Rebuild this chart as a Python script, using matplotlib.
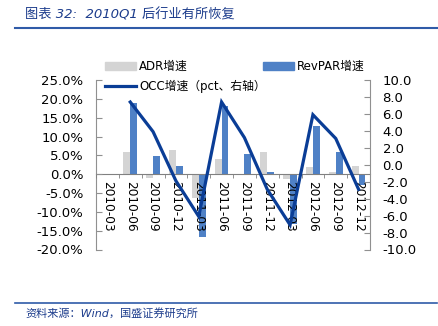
#!/usr/bin/env python3
# Hotel industry recovery after 2010Q1: ADR / RevPAR growth (bars) and OCC change (line, right axis)

import numpy as np
import matplotlib
matplotlib.use("Agg")
import matplotlib.pyplot as plt
from matplotlib.patches import Patch
from matplotlib.lines import Line2D

plt.rcParams['font.family'] = ['DejaVu Sans', 'Noto Sans CJK SC']

#%%============================================================================
# Data
#==============================================================================
quarters = ['2010-03', '2010-06', '2010-09', '2010-12', '2011-03', '2011-06',
            '2011-09', '2011-12', '2012-03', '2012-06', '2012-09', '2012-12']
adr = [0.0, 6.0, -0.9, 6.3, -6.4, 4.0, 0.0, 5.8, -1.3, 2.0, 0.7, 2.2]        # %
revpar = [0.0, 18.8, 4.9, 2.3, -16.8, 18.1, 5.4, 0.7, -13.3, 12.9, 5.8, -3.0]  # %
occ = [np.nan, 7.4, 3.9, -1.9, -6.1, 7.4, 3.2, -2.9, -7.1, 5.9, 3.1, -2.9]   # pct

left_ticks = [-20, -15, -10, -5, 0, 5, 10, 15, 20, 25]
right_ticks = [-10, -8, -6, -4, -2, 0, 2, 4, 6, 8, 10]

c_adr = '#d4d4d4'
c_rev = '#4f81c6'
c_occ = '#0a3d96'
c_title = '#1c3c8c'
c_rule = '#2f5ba8'

#%%============================================================================
# Plotting
#==============================================================================
W, H = 439, 326
fig = plt.figure(figsize=(W/100, H/100), dpi=100)
ax = fig.add_axes([96/W, 1 - 249.5/H, (370 - 96)/W, (249.5 - 80)/H])
ax2 = ax.twinx()

x = np.arange(len(quarters))
bw = 0.3
ax.bar(x - bw/2, adr, bw, color=c_adr, zorder=2)
ax.bar(x + bw/2, revpar, bw, color=c_rev, zorder=2)
ax2.plot(x, occ, color=c_occ, lw=2.3, solid_joinstyle='miter', zorder=3)

ax.set_xlim(-0.5, len(quarters) - 0.5)
ax.set_ylim(-20, 25)
ax.set_yticks(left_ticks)
ax.set_yticklabels(['%.1f%%' % v for v in left_ticks], fontsize=9.5)
ax2.set_ylim(-10, 10)
ax2.set_yticks(right_ticks)
ax2.set_yticklabels(['%.1f' % v for v in right_ticks], fontsize=9.5)

# x axis sits on the 0% line, labels read top-to-bottom, drawn over the bars
ax.set_axisbelow(False)
ax.spines['bottom'].set_position(('data', 0))
ax.set_xticks(x)
ax.set_xticklabels(quarters, rotation=270, fontsize=8.7, va='top', ha='center')
ax.tick_params(axis='x', length=0, pad=5)
ax.set_xticks(np.arange(len(quarters) + 1) - 0.5, minor=True)
ax.tick_params(axis='x', which='minor', length=3, direction='out', color='#808080')

for a in (ax, ax2):
    for s in a.spines.values():
        s.set_visible(False)
ax.spines['left'].set_visible(True)
ax.spines['bottom'].set_visible(True)
ax2.spines['right'].set_visible(True)
ax.spines['left'].set_color('#909090')
ax.spines['bottom'].set_color('#808080')
ax2.spines['right'].set_color('#909090')
ax.tick_params(axis='y', direction='in', length=4, color='#909090', pad=9)
ax2.tick_params(axis='y', direction='in', length=4, color='#909090', pad=9)
ax2.patch.set_visible(False)

# legend: two columns placed separately
leg_kw = dict(loc='upper left', frameon=False, fontsize=8.5, handlelength=2.6,
              handleheight=0.6, labelspacing=0.6, handletextpad=0.3, borderaxespad=0,
              borderpad=0)
fig.legend(handles=[Patch(color=c_adr, label='ADR增速'),
                    Line2D([], [], color=c_occ, lw=2.3, label='OCC增速（pct、右轴）')],
           bbox_to_anchor=(105/W, 1 - 60/H), **leg_kw)
fig.legend(handles=[Patch(color=c_rev, label='RevPAR增速')],
           bbox_to_anchor=(263/W, 1 - 60/H), **leg_kw)

# title and source
fig.text(25/W, 1 - 15/H, '图表 32:  2010Q1 后行业有所恢复', color=c_title, fontsize=9.5,
         style='italic', va='center', ha='left')
fig.add_artist(Line2D([15/W, 437/W], [1 - 27.5/H] * 2, color=c_rule, lw=1.5))
fig.add_artist(Line2D([15/W, 437/W], [1 - 303/H] * 2, color=c_rule, lw=1.2))
fig.text(25/W, 1 - 313/H, '资料来源：Wind，国盛证券研究所', color=c_title, fontsize=8,
         style='italic', va='center', ha='left')

fig.savefig('out.png', dpi=100)
